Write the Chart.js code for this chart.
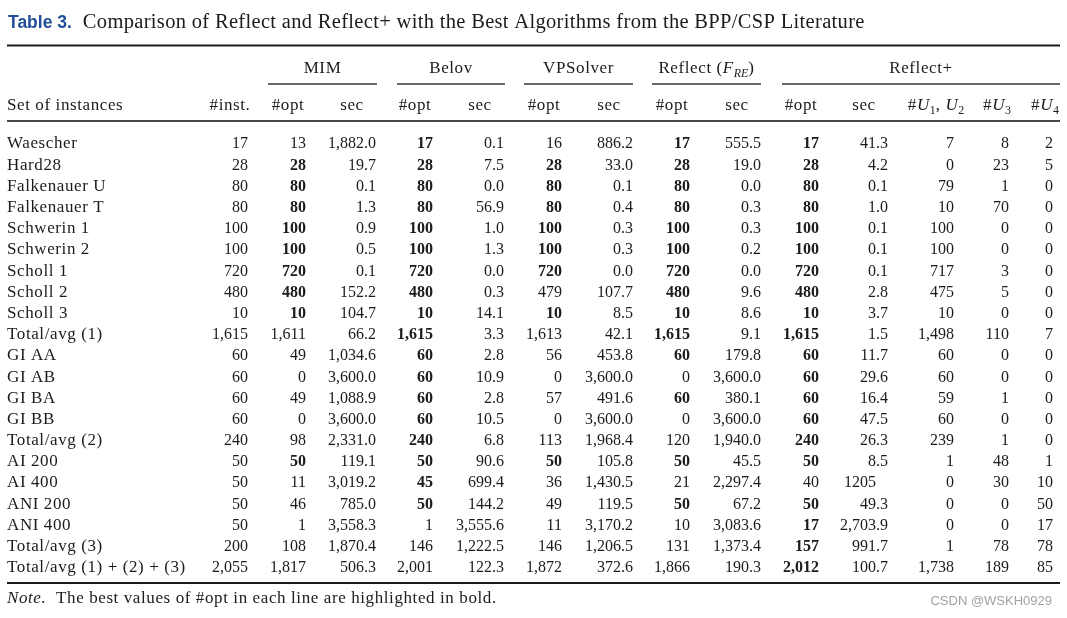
<!DOCTYPE html>
<html>
<head>
<meta charset="utf-8">
<script src="https://cdn.jsdelivr.net/npm/chart.js@4/dist/chart.umd.min.js"></script>
<style>
  html, body { margin: 0; padding: 0; background: #fff; }
</style>
</head>
<body>
<canvas id="tbl" width="1067" height="618"></canvas>
<script>
// Dữ liệu bảng (Table 3)
const rowNames = ["Waescher", "Hard28", "Falkenauer U", "Falkenauer T", "Schwerin 1", "Schwerin 2",
  "Scholl 1", "Scholl 2", "Scholl 3", "Total/avg (1)", "GI AA", "GI AB", "GI BA", "GI BB",
  "Total/avg (2)", "AI 200", "AI 400", "ANI 200", "ANI 400", "Total/avg (3)", "Total/avg (1) + (2) + (3)"];
const instances = [17, 28, 80, 80, 100, 100, 720, 480, 10, 1615, 60, 60, 60, 60, 240, 50, 50, 50, 50, 200, 2055];
const mimOpt = [13, 28, 80, 80, 100, 100, 720, 480, 10, 1611, 49, 0, 49, 0, 98, 50, 11, 46, 1, 108, 1817];
const mimSec = [1882.0, 19.7, 0.1, 1.3, 0.9, 0.5, 0.1, 152.2, 104.7, 66.2, 1034.6, 3600.0, 1088.9, 3600.0, 2331.0, 119.1, 3019.2, 785.0, 3558.3, 1870.4, 506.3];
const belovOpt = [17, 28, 80, 80, 100, 100, 720, 480, 10, 1615, 60, 60, 60, 60, 240, 50, 45, 50, 1, 146, 2001];
const belovSec = [0.1, 7.5, 0.0, 56.9, 1.0, 1.3, 0.0, 0.3, 14.1, 3.3, 2.8, 10.9, 2.8, 10.5, 6.8, 90.6, 699.4, 144.2, 3555.6, 1222.5, 122.3];
const vpOpt = [16, 28, 80, 80, 100, 100, 720, 479, 10, 1613, 56, 0, 57, 0, 113, 50, 36, 49, 11, 146, 1872];
const vpSec = [886.2, 33.0, 0.1, 0.4, 0.3, 0.3, 0.0, 107.7, 8.5, 42.1, 453.8, 3600.0, 491.6, 3600.0, 1968.4, 105.8, 1430.5, 119.5, 3170.2, 1206.5, 372.6];
const reflectOpt = [17, 28, 80, 80, 100, 100, 720, 480, 10, 1615, 60, 0, 60, 0, 120, 50, 21, 50, 10, 131, 1866];
const reflectSec = [555.5, 19.0, 0.0, 0.3, 0.3, 0.2, 0.0, 9.6, 8.6, 9.1, 179.8, 3600.0, 380.1, 3600.0, 1940.0, 45.5, 2297.4, 67.2, 3083.6, 1373.4, 190.3];
const plusOpt = [17, 28, 80, 80, 100, 100, 720, 480, 10, 1615, 60, 60, 60, 60, 240, 50, 40, 50, 17, 157, 2012];
const plusSec = [41.3, 4.2, 0.1, 1.0, 0.1, 0.1, 0.1, 2.8, 3.7, 1.5, 11.7, 29.6, 16.4, 47.5, 26.3, 8.5, "1205", 49.3, 2703.9, 991.7, 100.7];
const plusU12 = [7, 0, 79, 10, 100, 100, 717, 475, 10, 1498, 60, 60, 59, 60, 239, 1, 0, 0, 0, 1, 1738];
const plusU3 = [8, 23, 1, 70, 0, 0, 3, 5, 0, 110, 0, 0, 1, 0, 1, 48, 30, 0, 0, 78, 189];
const plusU4 = [2, 5, 0, 0, 0, 0, 0, 0, 0, 7, 0, 0, 0, 0, 0, 1, 10, 50, 17, 78, 85];

// Tiêu đề, nhóm cột, tên cột
const tableLabel = "Table 3.";
const tableTitle = "Comparison of Reflect and Reflect+ with the Best Algorithms from the BPP/CSP Literature";
const stubHeader = "Set of instances";
const groupHeaders = [
  [{ t: "MIM" }],
  [{ t: "Belov" }],
  [{ t: "VPSolver" }],
  [{ t: "Reflect (" }, { t: "F", it: 1 }, { t: "RE", it: 1, sub: 1 }, { t: ")" }],
  [{ t: "Reflect+" }]
];
const columnHeaders = [
  [{ t: "#inst." }],
  [{ t: "#opt" }], [{ t: "sec" }],
  [{ t: "#opt" }], [{ t: "sec" }],
  [{ t: "#opt" }], [{ t: "sec" }],
  [{ t: "#opt" }], [{ t: "sec" }],
  [{ t: "#opt" }], [{ t: "sec" }],
  [{ t: "#" }, { t: "U", it: 1 }, { t: "1", sub: 1 }, { t: ", " }, { t: "U", it: 1 }, { t: "2", sub: 1 }],
  [{ t: "#" }, { t: "U", it: 1 }, { t: "3", sub: 1 }],
  [{ t: "#" }, { t: "U", it: 1 }, { t: "4", sub: 1 }]
];
const noteLead = "Note.";
const noteText = "  The best values of #opt in each line are highlighted in bold.";
const watermark = "CSDN @WSKH0929";

// Bố cục (đơn vị trục x = px)
const stubLeft = 7;
const colRight = [248, 306, 376, 433, 504, 562, 633, 690, 761, 819, 888, 954, 1009, 1053];
const groupSpans = [[268, 377], [397, 505], [524, 633], [652, 761], [782, 1060]];
const ruleSpan = [7, 1060];

const SERIF = '"Liberation Serif", "Times New Roman", serif';
const SANS = '"Liberation Sans", Arial, sans-serif';
const INK = "#1b1b1b";
const LS = "0.6px";
const TEXT_SIZE = 17;
const NUM_SIZE = 16;

const fmtInt = new Intl.NumberFormat("en-US");
const fmtSec = new Intl.NumberFormat("en-US", { minimumFractionDigits: 1, maximumFractionDigits: 1 });

const optCols = [mimOpt, belovOpt, vpOpt, reflectOpt, plusOpt];
const bestOpt = rowNames.map((_, i) => Math.max(...optCols.map((c) => c[i])));

const columns = [
  { values: instances, kind: "int" },
  { values: mimOpt, kind: "opt" }, { values: mimSec, kind: "sec" },
  { values: belovOpt, kind: "opt" }, { values: belovSec, kind: "sec" },
  { values: vpOpt, kind: "opt" }, { values: vpSec, kind: "sec" },
  { values: reflectOpt, kind: "opt" }, { values: reflectSec, kind: "sec" },
  { values: plusOpt, kind: "opt" }, { values: plusSec, kind: "sec" },
  { values: plusU12, kind: "int" }, { values: plusU3, kind: "int" }, { values: plusU4, kind: "int" }
];

function formatCell(v, kind) {
  if (typeof v === "string") return v;
  return kind === "sec" ? fmtSec.format(v) : fmtInt.format(v);
}

// mỗi cột là một dataset, điểm đặt theo trục x (cột) và trục y (hàng)
const datasets = [
  {
    label: stubHeader,
    data: rowNames.map((r) => ({ x: stubLeft, y: r })),
    texts: rowNames,
    bolds: rowNames.map(() => false),
    align: "left",
    size: TEXT_SIZE,
    tight: false
  }
].concat(columns.map((col, c) => ({
  label: "col" + c,
  data: rowNames.map((r) => ({ x: colRight[c], y: r })),
  texts: col.values.map((v) => formatCell(v, col.kind)),
  raw: col.values,
  kind: col.kind,
  bolds: col.values.map((v, i) => col.kind === "opt" && v === bestOpt[i]),
  align: "right",
  size: NUM_SIZE,
  tight: true
})));

function applySeg(ctx, s, size) {
  const sz = s.sub ? size * 0.7 : size;
  ctx.font = (s.it ? "italic " : "") + (s.b ? "bold " : "") + sz + "px " + SERIF;
  ctx.letterSpacing = s.sub || s.tight ? "0px" : LS;
}

function richWidth(ctx, segs, size) {
  let w = 0;
  segs.forEach((s) => {
    applySeg(ctx, s, size);
    w += ctx.measureText(s.t).width;
  });
  return w;
}

function drawRich(ctx, segs, x, y, size, align) {
  const w = richWidth(ctx, segs, size);
  let cx = align === "center" ? x - w / 2 : align === "right" ? x - w : x;
  ctx.textAlign = "left";
  segs.forEach((s) => {
    applySeg(ctx, s, size);
    ctx.fillText(s.t, cx, y + (s.sub ? size * 0.22 : 0));
    cx += ctx.measureText(s.t).width;
  });
}

const tablePlugin = {
  id: "tableText",
  beforeDraw(chart) {
    const ctx = chart.ctx;
    ctx.save();
    ctx.fillStyle = "#fff";
    ctx.fillRect(0, 0, chart.width, chart.height);
    ctx.restore();
  },
  afterDatasetsDraw(chart) {
    const ctx = chart.ctx;
    const xs = chart.scales.x;
    const ys = chart.scales.y;
    const y0 = ys.getPixelForValue(0);
    const yL = ys.getPixelForValue(rowNames.length - 1);
    const px = (v) => xs.getPixelForValue(v);

    ctx.save();
    ctx.fillStyle = INK;
    ctx.textBaseline = "alphabetic";

    // các ô dữ liệu
    const colWidths = [];
    chart.data.datasets.forEach((ds, d) => {
      const meta = chart.getDatasetMeta(d);
      let maxW = 0;
      meta.data.forEach((pt, i) => {
        const seg = { t: ds.texts[i], b: ds.bolds[i], tight: ds.tight };
        let x = pt.x;
        if (ds.kind === "sec" && typeof ds.raw[i] === "string") {
          applySeg(ctx, { t: ".0", tight: true }, ds.size);
          x -= ctx.measureText(".0").width;
        }
        maxW = Math.max(maxW, richWidth(ctx, [seg], ds.size));
        drawRich(ctx, [seg], x, pt.y + 5.5, ds.size, ds.align);
      });
      colWidths.push(maxW);
    });

    // tiêu đề
    ctx.font = "bold 17.5px " + SANS;
    ctx.letterSpacing = "0px";
    ctx.fillStyle = "#1f4e97";
    ctx.textAlign = "left";
    const titleY = y0 - 114.7;
    ctx.fillText(tableLabel, px(8), titleY);
    const titleX = px(8) + ctx.measureText(tableLabel).width + 11;
    ctx.fillStyle = INK;
    ctx.font = "20.5px " + SERIF;
    ctx.letterSpacing = "0px";
    const natural = ctx.measureText(tableTitle).width;
    const target = px(864) - titleX;
    ctx.letterSpacing = ((target - natural) / (tableTitle.length - 1)).toFixed(2) + "px";
    ctx.fillText(tableTitle, titleX, titleY);
    ctx.letterSpacing = "0px";

    // các đường kẻ ngang
    const x0 = px(ruleSpan[0]);
    const x1 = px(ruleSpan[1]);
    ctx.fillRect(x0, y0 - 97.5 - 1, x1 - x0, 2);
    ctx.fillRect(x0, y0 - 22 - 0.8, x1 - x0, 1.6);
    ctx.fillRect(x0, yL + 16.3 - 1, x1 - x0, 2);
    groupSpans.forEach((sp) => {
      ctx.fillRect(px(sp[0]), y0 - 59 - 0.65, px(sp[1]) - px(sp[0]), 1.3);
    });

    // nhóm cột
    groupHeaders.forEach((segs, g) => {
      const cx = (px(groupSpans[g][0]) + px(groupSpans[g][1])) / 2;
      drawRich(ctx, segs, cx, y0 - 69.7, TEXT_SIZE, "center");
    });

    // tên cột
    drawRich(ctx, [{ t: stubHeader }], px(stubLeft), y0 - 33, TEXT_SIZE, "left");
    columnHeaders.forEach((segs, c) => {
      const cx = px(colRight[c]) - colWidths[c + 1] / 2;
      drawRich(ctx, segs, cx, y0 - 33, TEXT_SIZE, "center");
    });

    // ghi chú
    drawRich(ctx, [{ t: noteLead, it: 1 }, { t: noteText }], px(stubLeft), yL + 36.3, TEXT_SIZE, "left");

    // watermark
    ctx.font = "13px " + SANS;
    ctx.letterSpacing = "0px";
    ctx.fillStyle = "#a3a3a3";
    ctx.textAlign = "right";
    ctx.fillText(watermark, px(1052), yL + 38.3);

    ctx.restore();
  }
};

new Chart(document.getElementById("tbl"), {
  type: "scatter",
  data: { datasets: datasets },
  options: {
    responsive: false,
    animation: false,
    devicePixelRatio: 1,
    layout: { padding: { top: 132.4, bottom: 40.7, left: 0, right: 0 } },
    scales: {
      x: { type: "linear", min: 0, max: 1067, display: false },
      y: { type: "category", labels: rowNames, offset: true, display: false }
    },
    elements: { point: { radius: 0, hoverRadius: 0 } },
    plugins: { legend: { display: false }, tooltip: { enabled: false } },
    events: []
  },
  plugins: [tablePlugin]
});
</script>
</body>
</html>
